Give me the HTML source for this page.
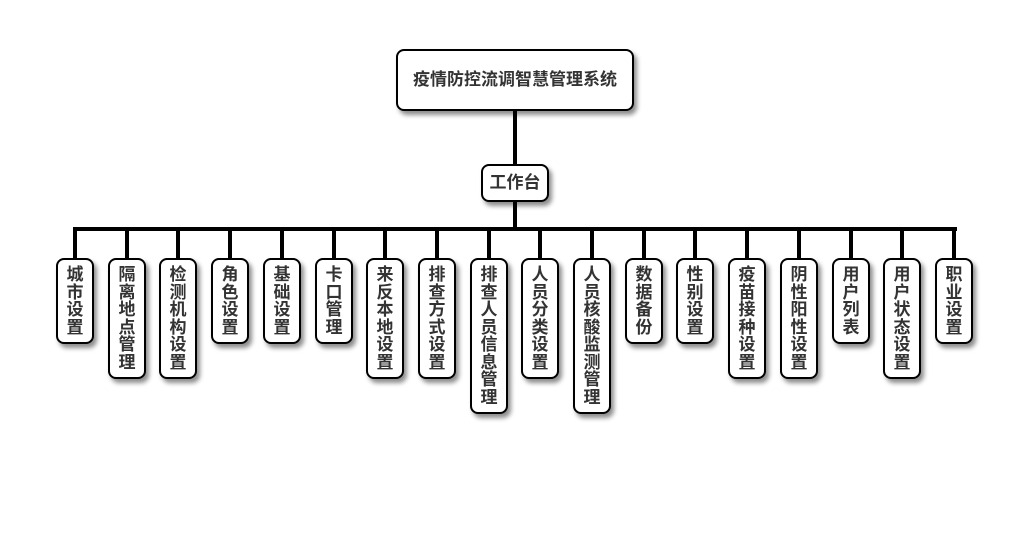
<!DOCTYPE html>
<html><head><meta charset="utf-8"><style>
body{margin:0;width:1030px;height:560px;background:#fff;position:relative;overflow:hidden;font-family:"Liberation Sans","Noto Sans CJK SC",sans-serif;}
.b{position:absolute;box-sizing:border-box;border:2px solid #000;border-radius:8px;background:#fff;box-shadow:3px 4px 5px rgba(0,0,0,0.45);color:#333;font-weight:bold;text-align:center;}
.c{width:38px;top:258px;font-size:17px;line-height:17.5px;padding:6px 0;}
.l{position:absolute;background:#000;}
</style></head><body>
<div class="l" style="left:513px;top:110px;width:4px;height:56px"></div>
<div class="l" style="left:513px;top:200px;width:4px;height:30px"></div>
<div class="l" style="left:73px;top:227px;width:884px;height:4px"></div>
<div class="b" style="left:396px;top:49px;width:238px;height:62px;font-size:17px;line-height:58px">疫情防控流调智慧管理系统</div>
<div class="b" style="left:481px;top:164px;width:68px;height:38px;font-size:17px;line-height:34px">工作台</div>
<div id="k"></div>
<script>
var t=["城市设置","隔离地点管理","检测机构设置","角色设置","基础设置","卡口管理","来反本地设置","排查方式设置","排查人员信息管理","人员分类设置","人员核酸监测管理","数据备份","性别设置","疫苗接种设置","阴性阳性设置","用户列表","用户状态设置","职业设置"];
var h="";
for(var i=0;i<t.length;i++){var cx=Math.round(75+i*51.7);
h+='<div class="l" style="left:'+(cx-2)+'px;top:229px;width:4px;height:30px"></div>';
h+='<div class="b c" style="left:'+(cx-19)+'px">'+t[i].split("").join("<br>")+'</div>';}
document.getElementById("k").innerHTML=h;
</script>
</body></html>
